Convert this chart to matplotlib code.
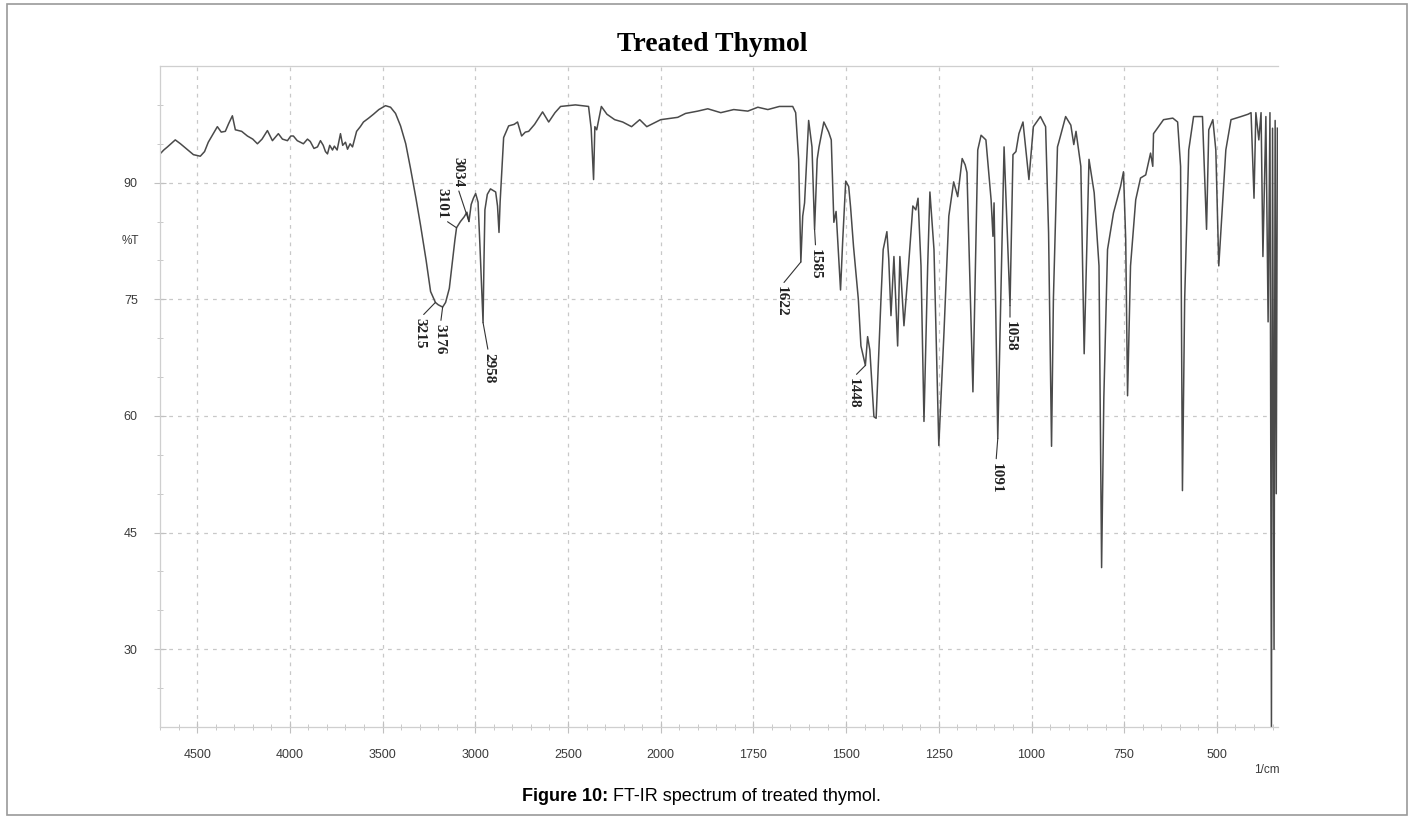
import numpy as np
import matplotlib
matplotlib.use("Agg")
import matplotlib.pyplot as plt
from matplotlib.patches import Rectangle
from matplotlib.ticker import FixedLocator, NullFormatter

# FT-IR trace of treated thymol, (wavenumber 1/cm, %T)
wavenumber = [
    4700, 4680, 4660, 4618, 4590, 4560, 4520, 4483, 4460, 4440, 4391, 4370, 4348,
    4330, 4310, 4294, 4260, 4229, 4200, 4175, 4150, 4121, 4094, 4062, 4040, 4013,
    3995, 3981, 3960, 3927, 3905, 3890, 3870, 3851, 3835, 3820, 3808, 3797, 3785,
    3770, 3760, 3745, 3727, 3715, 3700, 3689, 3675, 3662, 3640, 3620, 3603, 3575,
    3549, 3520, 3484, 3457, 3430, 3403, 3375, 3349, 3320, 3295, 3265, 3241, 3215,
    3200, 3176, 3160, 3140, 3125, 3110, 3101, 3080, 3060, 3045, 3034, 3022, 3010,
    2998, 2985, 2975, 2965, 2958, 2953, 2948, 2935, 2918, 2890, 2880, 2872, 2866,
    2856, 2847, 2820, 2790, 2772, 2750, 2730, 2712, 2680, 2637, 2604, 2570, 2540,
    2460, 2389, 2375, 2362, 2355, 2345, 2320, 2290, 2248, 2205, 2157, 2113, 2075,
    2000, 1954, 1933, 1900, 1873, 1838, 1803, 1765, 1738, 1711, 1680, 1644, 1636,
    1628, 1622, 1617, 1612, 1601, 1592, 1585, 1578, 1573, 1560, 1547, 1540, 1533,
    1527, 1515, 1509, 1501, 1493, 1488, 1480, 1467, 1460, 1448, 1442, 1436, 1425,
    1419, 1406, 1400, 1390, 1385, 1379, 1371, 1361, 1355, 1344, 1333, 1320, 1312,
    1306, 1298, 1290, 1280, 1274, 1263, 1250, 1236, 1223, 1210, 1199, 1187, 1179,
    1174, 1158, 1145, 1136, 1123, 1109, 1104, 1101, 1091, 1083, 1074, 1058, 1050,
    1042, 1034, 1023, 1007, 995, 976, 962, 954, 946, 941, 930, 927, 908, 894, 886,
    880, 867, 858, 845, 831, 818, 811, 805, 795, 779, 760, 752, 746, 741, 733, 719,
    706, 692, 679, 673, 671, 644, 619, 606, 598, 593, 587, 576, 563, 539, 528, 522,
    511, 503, 495, 484, 476, 462, 435, 416, 408, 400, 395, 387, 381, 376, 368, 362,
    357, 353, 350, 346, 343, 340, 337,
]
transmittance = [
    93.7, 94.2, 94.6, 95.5, 95.0, 94.4, 93.6, 93.4, 94.0, 95.2, 97.2, 96.5, 96.6,
    97.6, 98.6, 96.8, 96.6, 96.0, 95.6, 95.0, 95.6, 96.7, 95.4, 96.3, 95.6, 95.4,
    96.0, 96.0, 95.4, 95.0, 95.6, 95.3, 94.4, 94.6, 95.4, 94.8, 94.0, 93.7, 94.8,
    94.2, 94.7, 94.2, 96.3, 94.8, 95.2, 94.3, 95.0, 94.6, 96.6, 97.2, 97.8, 98.3,
    98.8, 99.4, 99.9, 99.7, 98.9, 97.3, 95.0, 91.8, 88.0, 84.5, 80.0, 76.0, 74.6,
    74.3, 74.0, 74.6, 76.4, 79.5, 82.6, 84.2, 85.0, 85.6, 86.2, 85.0, 87.2, 88.0,
    88.6, 87.5, 82.0, 76.0, 72.0, 80.0, 86.5, 88.5, 89.2, 88.8, 87.0, 83.6, 87.5,
    92.0, 95.8, 97.3, 97.5, 97.8, 96.0, 96.5, 96.6, 97.5, 99.1, 97.8, 99.0, 99.8,
    100.0, 99.8, 97.0, 90.4, 97.2, 96.8, 99.8, 98.8, 98.1, 97.8, 97.2, 98.1, 97.2,
    98.1, 98.4, 98.9, 99.2, 99.5, 99.0, 99.4, 99.2, 99.7, 99.4, 99.8, 99.8, 99.0,
    93.0, 79.8, 85.7, 87.4, 98.0, 94.6, 84.0, 93.0, 94.6, 97.8, 96.5, 95.5, 84.9,
    86.3, 76.2, 82.7, 90.2, 89.5, 86.9, 81.8, 75.0, 69.0, 66.5, 70.2, 68.5, 59.9,
    59.7, 75.0, 81.4, 83.7, 80.2, 72.9, 80.5, 69.0, 80.5, 71.6, 78.4, 87.0, 86.5,
    88.0, 79.3, 59.3, 79.3, 88.8, 81.4, 56.2, 70.8, 85.7, 90.1, 88.2, 93.1, 92.3,
    91.3, 63.1, 94.2, 96.1, 95.5, 87.8, 83.1, 87.4, 57.1, 75.0, 94.6, 74.2, 93.6,
    94.0, 96.3, 97.8, 90.4, 97.2, 98.5, 97.2, 83.6, 56.1, 75.0, 94.6, 95.1, 98.5,
    97.4, 94.9, 96.6, 92.1, 68.0, 93.0, 88.7, 79.3, 40.5, 62.3, 81.4, 86.1, 89.5,
    91.4, 82.7, 62.6, 79.3, 87.8, 90.6, 91.0, 93.8, 92.1, 96.3, 98.1, 98.3, 97.8,
    92.1, 50.4, 75.0, 94.2, 98.5, 98.5, 84.0, 96.8, 98.1, 94.2, 79.3, 87.8, 94.2,
    98.1, 98.5, 98.8, 99.0, 88.0, 99.0, 95.5, 99.0, 80.5, 98.5, 72.1, 99.0, 20.0,
    97.0, 30.0, 98.0, 50.0, 97.0,
]

# labelled bands: value, text position (wavenumber, %T), which side of the text the leader leaves
peak_labels = [3215, 3176, 3101, 3034, 2958, 1622, 1585, 1448, 1091, 1058]
label_pos = [(3298, 70.6), (3188, 69.8), (3178, 87.4), (3096, 91.4), (2928, 66.1),
             (1676, 74.7), (1582, 79.5), (1482, 62.9), (1096, 52.0), (1058, 70.2)]
label_side = ["top", "top", "bottom", "bottom", "top",
              "top", "top", "top", "top", "top"]

major_ticks = [4500, 4000, 3500, 3000, 2500, 2000, 1750, 1500, 1250, 1000, 750, 500]
y_ticks = [30, 45, 60, 75, 90]


def forward(w):
    w = np.asarray(w, dtype=float)
    return np.where(w > 2000, 1000 + w / 2, w)


def inverse(u):
    u = np.asarray(u, dtype=float)
    return np.where(u > 2000, 2 * (u - 1000), u)


fig = plt.figure(figsize=(14.14, 8.19), dpi=100)
ax = fig.add_axes([0.1132, 0.1123, 0.7907, 0.8071])
ax.set_xscale("function", functions=(forward, inverse))
ax.set_xlim(4700, 335)
ax.set_ylim(20, 105)

ax.plot(wavenumber, transmittance, color="#4a4a4a", lw=1.1)

# dashed grid
for t in major_ticks:
    ax.axvline(t, color="#c8c8c8", lw=0.9, ls=(0, (3, 4)), zorder=0)
for t in y_ticks:
    ax.axhline(t, color="#c8c8c8", lw=0.9, ls=(0, (3, 4)), zorder=0)

ax.xaxis.set_major_locator(FixedLocator(major_ticks))
minor_x = list(np.arange(4700, 2000, -100)) + list(np.arange(2000, 335, -50))
ax.xaxis.set_minor_locator(FixedLocator(minor_x))
ax.xaxis.set_minor_formatter(NullFormatter())
ax.set_xticklabels([str(t) for t in major_ticks])
ax.yaxis.set_major_locator(FixedLocator(y_ticks))
ax.yaxis.set_minor_locator(FixedLocator(np.arange(25, 105, 5)))
ax.yaxis.set_minor_formatter(NullFormatter())

ax.tick_params(axis="both", which="both", color="#c0c0c0", labelcolor="#3a3a3a",
               labelsize=9, direction="inout")
ax.tick_params(axis="both", which="major", length=8, pad=12)
ax.tick_params(axis="both", which="minor", length=5)
for lab in ax.get_xticklabels() + ax.get_yticklabels():
    lab.set_family("Liberation Sans")

for side in ["left", "bottom", "top"]:
    ax.spines[side].set_color("#cfcfcf")
    ax.spines[side].set_linewidth(0.9)
ax.spines["right"].set_visible(False)

ax.text(-0.027, 82.5, "%T", transform=ax.get_yaxis_transform(), ha="center",
        va="center", fontsize=8.5, color="#3a3a3a", family="Liberation Sans")
ax.text(0.99, -0.065, "1/cm", transform=ax.transAxes, ha="center", va="center",
        fontsize=8.5, color="#3a3a3a", family="Liberation Sans")

# peak annotations, rotated like the instrument printout
wn = np.array(wavenumber)
tr = np.array(transmittance)
order = np.argsort(wn)
for peak, pos, side in zip(peak_labels, label_pos, label_side):
    tip = np.interp(peak, wn[order], tr[order])
    rel = (0.5, 1.0) if side == "top" else (0.5, 0.0)
    ax.annotate(str(peak), xy=(peak, tip), xytext=pos, rotation=-90,
                ha="center", va="center", fontsize=11, fontweight="bold",
                family="Liberation Serif", color="#222222",
                arrowprops=dict(arrowstyle="-", color="#333333", lw=0.8,
                                relpos=rel, shrinkA=1, shrinkB=0))

fig.text(0.5035, 0.946, "Treated Thymol", ha="center", va="center",
         fontsize=20, fontweight="bold", family="Liberation Serif")

fig.text(0.430, 0.027, "Figure 10:", ha="right", va="center", fontsize=13,
         fontweight="bold", family="Liberation Sans")
fig.text(0.430, 0.027, " FT-IR spectrum of treated thymol.", ha="left",
         va="center", fontsize=13, family="Liberation Sans")

fig.patches.append(Rectangle((7 / 1414, 4 / 819), 1400 / 1414, 811 / 819,
                             transform=fig.transFigure, fill=False,
                             edgecolor="#9a9a9a", lw=1.2))

fig.savefig("out.png", dpi=100)
